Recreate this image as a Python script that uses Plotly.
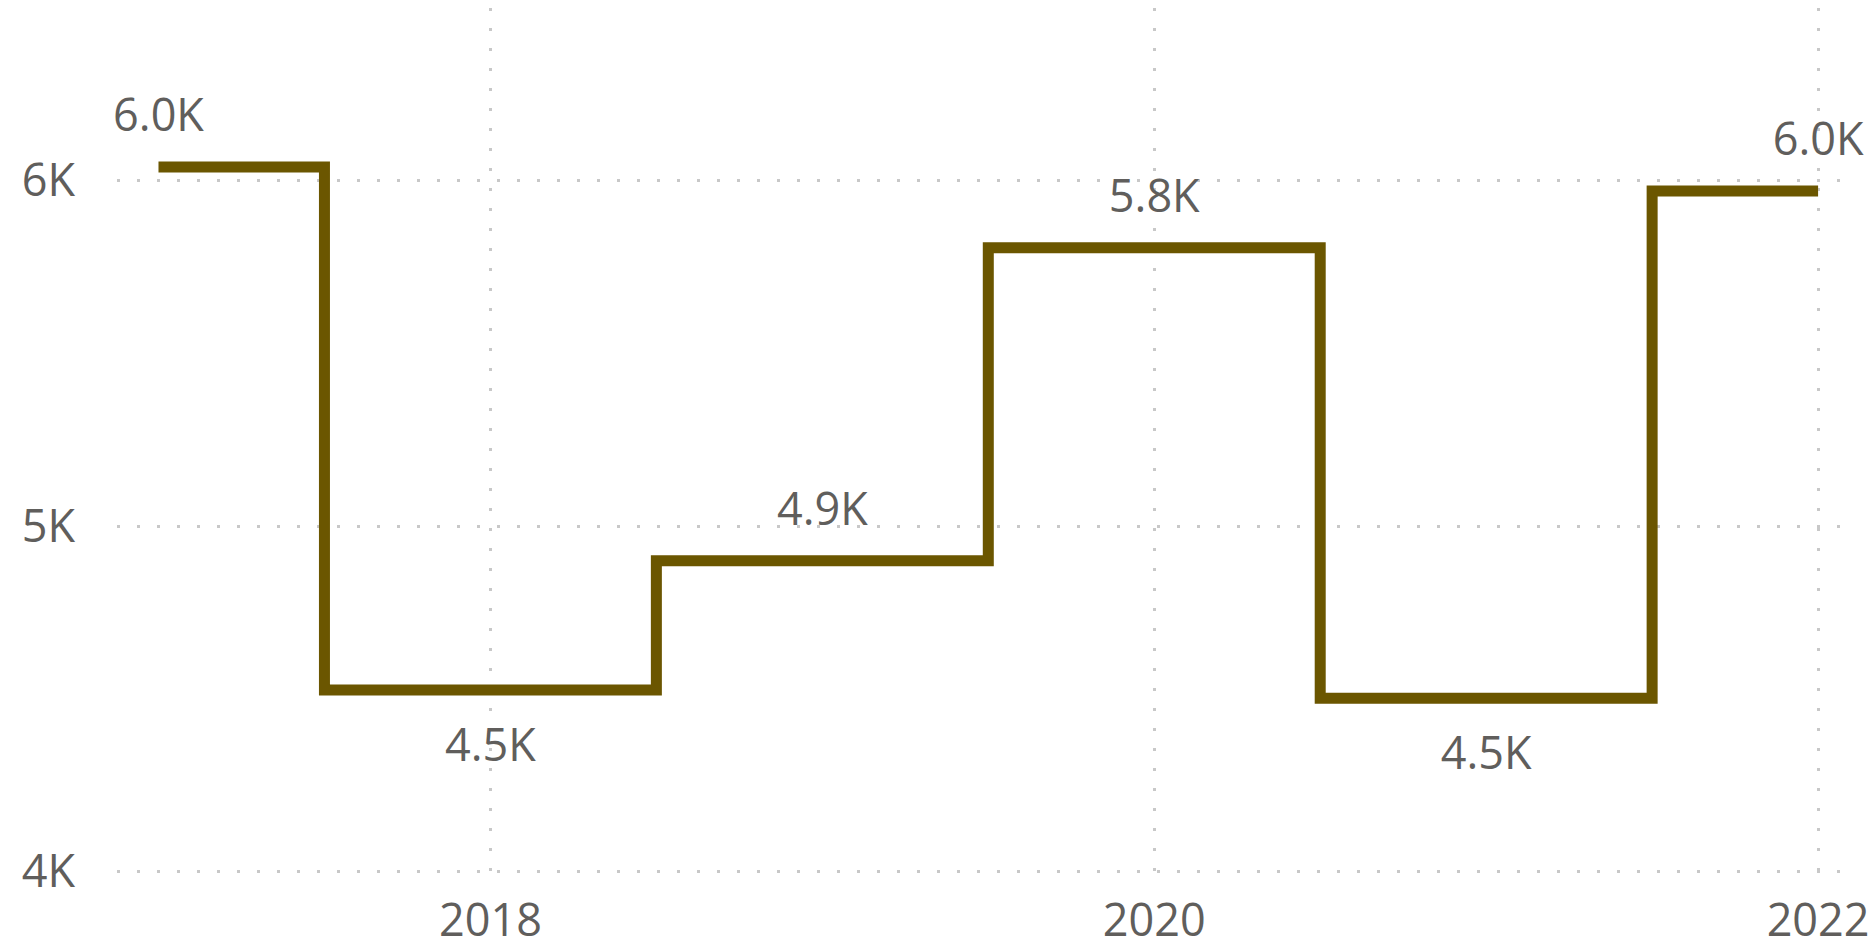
import plotly.graph_objects as go

years = [2017, 2018, 2019, 2020, 2021, 2022]
values = [6040, 4526, 4900, 5806, 4502, 5970]
label_pos = ["top center", "bottom center", "top center", "top center", "bottom center", "top center"]
y_tick_vals = [4000, 5000, 6000]
y_tick_text = ["4K", "5K", "6K"]
x_tick_vals = [2018, 2020, 2022]

labels = [f"{v/1000:.1f}K" for v in values]
# invisible marker size only pushes labels away from the line
label_gap = [38 if p.startswith("top") else 58 for p in label_pos]

font_family = "Segoe UI, Open Sans, Noto Sans, sans-serif"
text_color = "#605E5C"
grid = dict(showgrid=True, gridcolor="#C8C8C8", gridwidth=3, griddash="3px,17px",
            zeroline=False, showline=False, ticks="", automargin=False)

fig = go.Figure()
fig.add_trace(go.Scatter(
    x=years, y=values, mode="lines+markers+text",
    line=dict(shape="hvh", color="#6B5600", width=11),
    marker=dict(size=label_gap, opacity=0, color="#6B5600"),
    text=labels, textposition=label_pos,
    textfont=dict(family=font_family, size=45, color=text_color),
    cliponaxis=False, hoverinfo="skip",
))

fig.update_layout(
    width=1868, height=940,
    margin=dict(l=109, r=36, t=0, b=75, autoexpand=False),
    paper_bgcolor="white", plot_bgcolor="white",
    showlegend=False,
    font=dict(family=font_family, size=45, color=text_color),
)
fig.update_xaxes(
    range=[2016.875, 2022.066], tickvals=x_tick_vals, ticktext=[str(v) for v in x_tick_vals],
    ticklabelstandoff=17,
    tickfont=dict(family=font_family, size=45, color=text_color), **grid,
)
fig.update_yaxes(
    range=[3996, 6500], tickvals=y_tick_vals, ticktext=y_tick_text,
    ticklabelstandoff=41,
    tickfont=dict(family=font_family, size=45, color=text_color), **grid,
)

fig.write_html("out.html")
